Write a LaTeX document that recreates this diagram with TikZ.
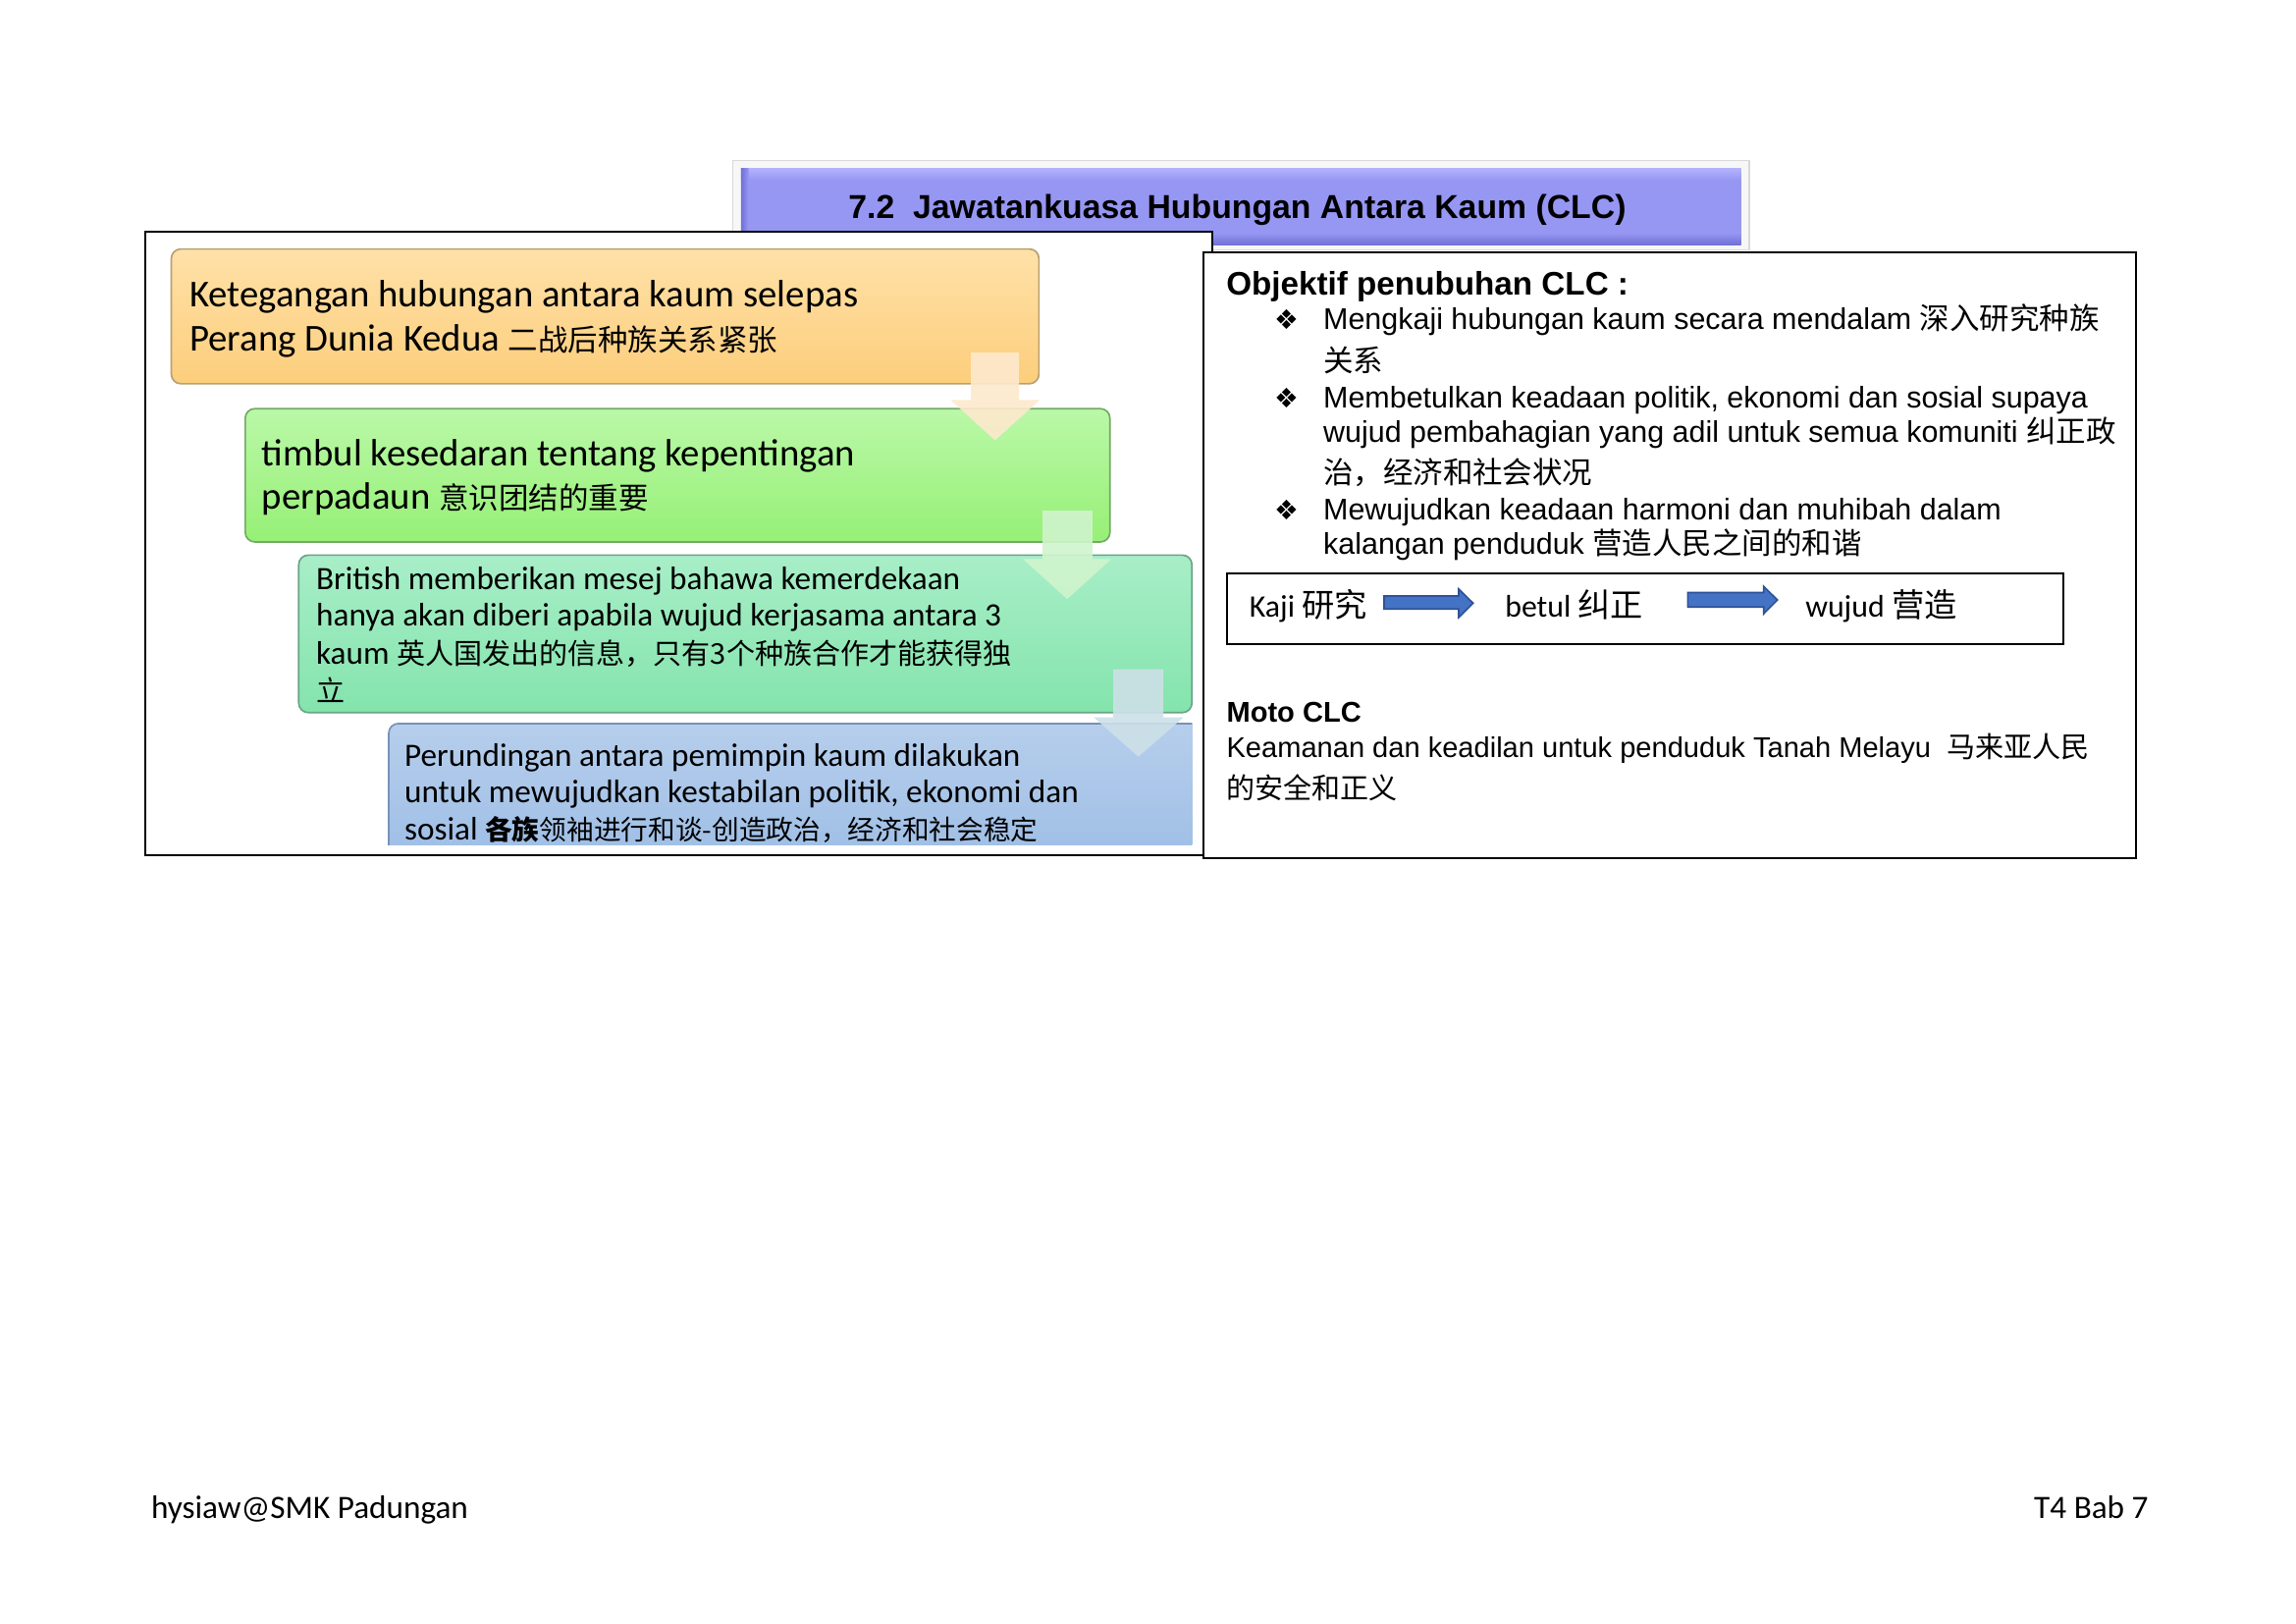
\documentclass[tikz,border=0pt]{standalone}
\usepackage{fontspec}
\setmainfont{Carlito}
\newfontfamily\ari{Liberation Sans}
\newfontfamily\cjk{Noto Sans CJK SC}
\newfontfamily\dej{DejaVu Sans}
\newcommand\zh[2][11]{{\fontsize{#1}{#1}\selectfont\cjk #2}}
\definecolor{titleblue}{RGB}{150,150,243}
\definecolor{titlelight}{RGB}{178,178,252}
\definecolor{titledark}{RGB}{112,112,215}
\definecolor{orTop}{RGB}{255,225,168}
\definecolor{orBot}{RGB}{252,206,124}
\definecolor{orBorder}{RGB}{185,160,115}
\definecolor{grTop}{RGB}{186,248,168}
\definecolor{grBot}{RGB}{150,240,118}
\definecolor{grBorder}{RGB}{115,170,100}
\definecolor{tlTop}{RGB}{168,238,200}
\definecolor{tlBot}{RGB}{132,228,172}
\definecolor{tlBorder}{RGB}{105,165,135}
\definecolor{blTop}{RGB}{182,206,236}
\definecolor{blBot}{RGB}{152,186,228}
\definecolor{blBorder}{RGB}{120,145,185}
\definecolor{arrA}{RGB}{253,233,205}
\definecolor{arrB}{RGB}{208,244,205}
\definecolor{arrC}{RGB}{205,224,232}
\definecolor{kblue}{RGB}{68,114,196}
\definecolor{kblueD}{RGB}{47,82,150}
\tikzset{
  frame/.style={draw=black, line width=0.75pt, fill=white},
  stepbox/.style={rounded corners=3.5pt, line width=0.6pt},
  txtL/.style={anchor=base west, inner sep=0pt, font=\fontsize{14}{16}\selectfont},
  txtM/.style={anchor=base west, inner sep=0pt, font=\fontsize{12}{14}\selectfont},
  txtK/.style={anchor=base west, inner sep=0pt, font=\fontsize{11.5}{14}\selectfont},
  txtR/.style={anchor=base west, inner sep=0pt, font={\ari\fontsize{11}{13}\selectfont}},
  txtS/.style={anchor=base west, inner sep=0pt, font={\ari\fontsize{10.5}{13}\selectfont}},
  hdr/.style={anchor=base west, inner sep=0pt, font={\ari\bfseries\fontsize{12}{14}\selectfont}},
  hdrS/.style={anchor=base west, inner sep=0pt, font={\ari\bfseries\fontsize{10.5}{13}\selectfont}},
  hdrT/.style={inner sep=0pt, font={\ari\bfseries\fontsize{12.2}{14}\selectfont}},
  bul/.style={anchor=base, inner sep=0pt, font={\dej\fontsize{10}{10}\selectfont}},
  downarrow/.style={opacity=0.9},
  bluearrow/.style={fill=kblue, draw=kblueD, line width=0.6pt}
}
\begin{document}
\begin{tikzpicture}[x=0.018941326cm, y=-0.018941326cm]
\useasboundingbox (0,0) rectangle (1568,1108.7);
% title bar
\fill[black!3] (500,109) rectangle (1195,171);
\draw[black!15, line width=0.5pt] (500.5,109.5) rectangle (1194.5,170.5);
\fill[titleblue] (506,115) rectangle (1189,167);
\shade[top color=titlelight, bottom color=titleblue] (506,115) rectangle (1189,123);
\shade[top color=titleblue, bottom color=titledark] (506,159) rectangle (1189,167);
\shade[left color=titledark, right color=titleblue] (506,115) rectangle (511,167);
\node[hdrT, anchor=base] (title) at (845,149.3) {7.2\ \ Jawatankuasa Hubungan Antara Kaum (CLC)};
% frames
\draw[frame] (99,158) rectangle (828,584);
\draw[frame] (822,172) rectangle (1459,586);
% step boxes
\draw[stepbox, top color=orTop, bottom color=orBot, draw=orBorder] (117,170) rectangle (709.5,262);
\draw[stepbox, top color=grTop, bottom color=grBot, draw=grBorder] (167.5,279) rectangle (758,370);
\draw[stepbox, top color=tlTop, bottom color=tlBot, draw=tlBorder] (204,379) rectangle (814,486.5);
\begin{scope}
\clip (0,0) rectangle (814,577);
\draw[stepbox, top color=blTop, bottom color=blBot, draw=blBorder] (265.5,494) rectangle (840,612);
\node[txtM] (b4a) at (275.9,523.3) {Perundingan antara pemimpin kaum dilakukan};
\node[txtM] (b4b) at (275.9,547.9) {untuk mewujudkan kestabilan politik, ekonomi dan};
\node[txtM] (b4c) at (275.9,573.5) {sosial \zh[10]{\bfseries 各族}\zh[10]{领袖进行和谈-创造政治，经济和社会稳定}};
\end{scope}
% down arrows
\fill[arrA, downarrow] (663,240.7) -- (696,240.7) -- (696,273.1) -- (710.1,273.1) -- (679.5,300.6) -- (649.2,273.1) -- (663,273.1) -- cycle;
\fill[arrB, downarrow] (712,348.6) -- (746,348.6) -- (746,381.7) -- (759,381.7) -- (728.8,409) -- (698.6,381.7) -- (712,381.7) -- cycle;
\fill[arrC, downarrow] (760.3,457) -- (794.4,457) -- (794.4,489.8) -- (808.2,489.8) -- (777.4,516.6) -- (747,489.8) -- (760.3,489.8) -- cycle;
% box texts
\node[txtL] (b1a) at (129.1,209.5) {Ketegangan hubungan antara kaum selepas};
\node[txtL] (b1b) at (129.1,239.5) {Perang Dunia Kedua \zh{二战后种族关系紧张}};
\node[txtL] (b2a) at (178.5,318) {timbul kesedaran tentang kepentingan};
\node[txtL] (b2b) at (178.5,347.8) {perpadaun \zh{意识团结的重要}};
\node[txtM] (b3a) at (215.6,402.8) {British memberikan mesej bahawa kemerdekaan};
\node[txtM] (b3b) at (215.6,427.4) {hanya akan diberi apabila wujud kerjasama antara 3};
\node[txtM] (b3c) at (215.6,453.5) {kaum \zh[10.5]{英人国发出的信息，只有3个种族合作才能获得独}};
\node[txtM] (b3d) at (215.6,479) {\zh[10.5]{立}};
% right panel
\node[hdr] (obj) at (837.1,201.2) {Objektif penubuhan CLC :};
\node[bul] (u1) at (878.6,224.6) {❖};
\node[bul] (u2) at (878.6,278.2) {❖};
\node[bul] (u3) at (878.6,354.9) {❖};
\node[txtR] (r1) at (903.4,224.6) {Mengkaji hubungan kaum secara mendalam \zh{深入研究种族}};
\node[txtR] (r2) at (903.4,253.5) {\zh{关系}};
\node[txtR] (r3) at (903.4,278.2) {Membetulkan keadaan politik, ekonomi dan sosial supaya};
\node[txtR] (r4) at (903.4,301.7) {wujud pembahagian yang adil untuk semua komuniti \zh{纠正政}};
\node[txtR] (r5) at (903.4,330) {\zh{治，经济和社会状况}};
\node[txtR] (r6) at (903.4,354.9) {Mewujudkan keadaan harmoni dan muhibah dalam};
\node[txtR] (r7) at (903.4,378.1) {kalangan penduduk \zh{营造人民之间的和谐}};
% kaji box
\draw[line width=0.6pt] (838,391.7) rectangle (1409,439.6);
\node[txtK] (kaji) at (852.9,421.6) {Kaji \zh[12]{研究}};
\node[txtK] (betul) at (1027.5,421.6) {betul \zh[12]{纠正}};
\node[txtK] (wujud) at (1232.6,421.6) {wujud \zh[12]{营造}};
\draw[bluearrow] (945.2,406.9) -- (996.2,406.9) -- (996.2,402.2) -- (1006,411.8) -- (996.2,421.5) -- (996.2,415.8) -- (945.2,415.8) -- cycle;
\draw[bluearrow] (1152.6,404.6) -- (1204.5,404.6) -- (1204.5,400.4) -- (1213.8,409.6) -- (1204.5,419) -- (1204.5,414.4) -- (1152.6,414.4) -- cycle;
% moto
\node[hdrS] (moto) at (837.3,493.2) {Moto CLC};
\node[txtS] (m1) at (837.3,517.3) {Keamanan dan keadilan untuk penduduk Tanah Melayu\ \ \zh[10.5]{马来亚人民}};
\node[txtS] (m2) at (837.3,545.5) {\zh[10.5]{的安全和正义}};
% footer
\node[txtM] (foot1) at (102.9,1036.9) {hysiaw@SMK Padungan};
\node[txtM, anchor=base east] (foot2) at (1467.5,1036.9) {T4 Bab 7};
\end{tikzpicture}
\end{document}
